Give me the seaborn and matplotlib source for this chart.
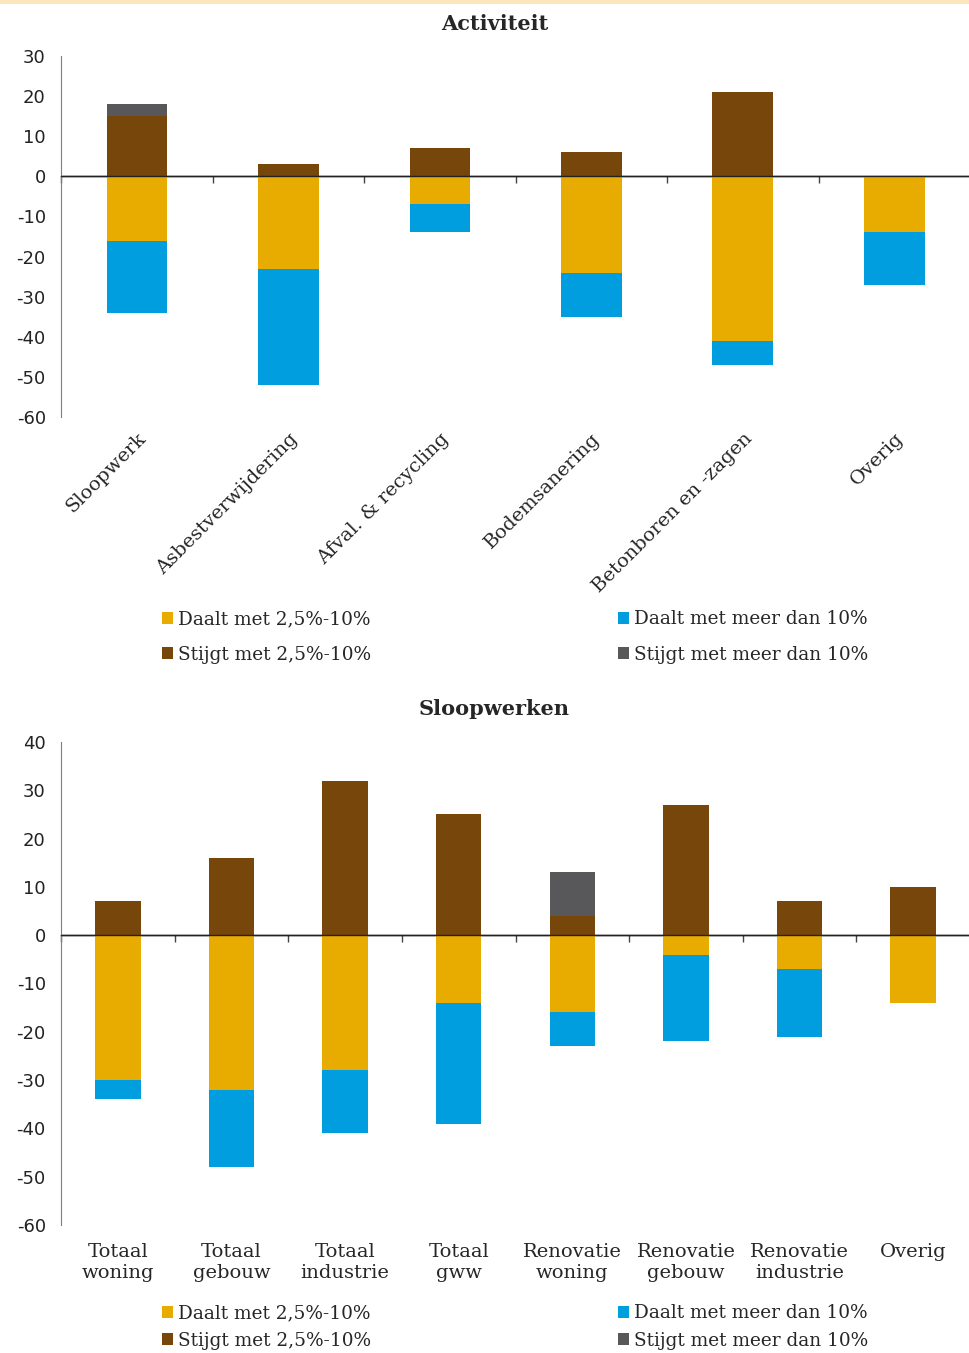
import matplotlib
matplotlib.use("Agg")
import matplotlib.pyplot as plt
import matplotlib.patches as mpatches
from matplotlib.ticker import NullFormatter
import numpy as np
import pandas as pd
import seaborn as sns

# Activiteit
act_cats = ['Sloopwerk', 'Asbestverwijdering', 'Afval. & recycling', 'Bodemsanering',
            'Betonboren en -zagen', 'Overig']
act_daalt = [-16, -23, -7, -24, -41, -14]
act_daalt_meer = [-18, -29, -7, -11, -6, -13]
act_stijgt = [15, 3, 7, 6, 21, 0]
act_stijgt_meer = [3, 0, 0, 0, 0, 0]
act_yticks = list(range(-60, 31, 10))

# Sloopwerken
sloop_cats = ['Totaal\nwoning', 'Totaal\ngebouw', 'Totaal\nindustrie', 'Totaal\ngww',
              'Renovatie\nwoning', 'Renovatie\ngebouw', 'Renovatie\nindustrie', 'Overig']
sloop_daalt = [-30, -32, -28, -14, -16, -4, -7, -14]
sloop_daalt_meer = [-4, -16, -13, -25, -7, -18, -14, 0]
sloop_stijgt = [7, 16, 32, 25, 4, 27, 7, 10]
sloop_stijgt_meer = [0, 0, 0, 0, 9, 0, 0, 0]
sloop_yticks = list(range(-60, 41, 10))

LABELS = ['Daalt met 2,5%-10%', 'Daalt met meer dan 10%',
          'Stijgt met 2,5%-10%', 'Stijgt met meer dan 10%']
YELLOW, BLUE, BROWN, GREY = '#E8AC00', '#009EDF', '#77460A', '#58585A'

SERIF = 'DejaVu Serif'
SANS = 'DejaVu Sans'

sns.set_style('white')
plt.rcParams['font.family'] = [SERIF]
plt.rcParams['axes.unicode_minus'] = False


def stacked(ax, cats, daalt, daalt_meer, stijgt, stijgt_meer, yticks):
    df = pd.DataFrame({'cat': cats, 'daalt': daalt, 'daalt_meer': daalt_meer,
                       'stijgt': stijgt, 'stijgt_meer': stijgt_meer})
    df['neg_total'] = df['daalt'] + df['daalt_meer']
    df['pos_total'] = df['stijgt'] + df['stijgt_meer']
    kw = dict(data=df, x='cat', width=0.4, saturation=1, linewidth=0, errorbar=None, ax=ax)
    # overlay cumulative bars so they read as stacked segments
    sns.barplot(y='neg_total', color=BLUE, label=LABELS[1], **kw)
    sns.barplot(y='daalt', color=YELLOW, label=LABELS[0], **kw)
    sns.barplot(y='pos_total', color=GREY, label=LABELS[3], **kw)
    sns.barplot(y='stijgt', color=BROWN, label=LABELS[2], **kw)
    if ax.get_legend() is not None:
        ax.get_legend().remove()

    ymin, ymax = yticks[0], yticks[-1]
    ax.set_ylim(ymin, ymax)
    ax.set_xlim(-0.5, len(cats) - 0.5)
    ax.set_yticks(yticks)
    ax.set_xlabel('')
    ax.set_ylabel('')
    for s in ['top', 'right', 'bottom']:
        ax.spines[s].set_visible(False)
    ax.spines['left'].set_color('#7F7F7F')
    ax.tick_params(axis='y', direction='out', length=5, width=1, color='#7F7F7F',
                   labelsize=13, pad=6)
    for t in ax.get_yticklabels():
        t.set_fontfamily(SANS)
        t.set_color('#222222')
    ax.tick_params(axis='x', length=0, labelsize=14, pad=13)

    # zero axis with category separators (ticks hang below the line)
    zero = (0 - ymin) / (ymax - ymin)
    sec = ax.secondary_xaxis(zero)
    sec.set_xticks(np.arange(-0.5, len(cats), 1.0))
    sec.xaxis.set_major_formatter(NullFormatter())
    sec.tick_params(direction='in', length=5, width=1, color='#444444')
    for s in sec.spines.values():
        s.set_color('black')
        s.set_linewidth(1)
    ax.axhline(0, color='#222222', lw=1, zorder=5)

    handles, labels = ax.get_legend_handles_labels()
    lookup = dict(zip(labels, handles))
    order = [LABELS[0], LABELS[2], LABELS[1], LABELS[3]]
    return [lookup[l] for l in order], order


fig = plt.figure(figsize=(9.7, 13.53), dpi=100)
fig.add_artist(mpatches.Rectangle((0, 1 - 4 / 1353), 1, 4 / 1353,
                                  transform=fig.transFigure, color='#FCE6BC', lw=0))

leg_kw = dict(loc='upper left', ncol=2, frameon=False, fontsize=13.3, handlelength=0.6,
              handleheight=0.6, handletextpad=0.25, columnspacing=13.4, borderpad=0,
              borderaxespad=0)

ax1 = fig.add_axes([0.063, 0.6918, 0.937, 0.2668])
h, l = stacked(ax1, act_cats, act_daalt, act_daalt_meer, act_stijgt, act_stijgt_meer,
               act_yticks)
ax1.tick_params(axis='x', pad=9)
plt.setp(ax1.get_xticklabels(), rotation=45, ha='right', va='top', rotation_mode='anchor')
fig.text(0.510, 0.982, 'Activiteit', ha='center', va='center', fontsize=15,
         fontweight='bold', family=SERIF)
fig.legend(h, l, bbox_to_anchor=(0.167, 0.549), labelspacing=0.95, **leg_kw)

ax2 = fig.add_axes([0.063, 0.0946, 0.937, 0.357])
h, l = stacked(ax2, sloop_cats, sloop_daalt, sloop_daalt_meer, sloop_stijgt,
               sloop_stijgt_meer, sloop_yticks)
fig.text(0.509, 0.476, 'Sloopwerken', ha='center', va='center', fontsize=15,
         fontweight='bold', family=SERIF)
fig.legend(h, l, bbox_to_anchor=(0.167, 0.036), labelspacing=0.5, **leg_kw)

fig.savefig('out.png', dpi=100)
